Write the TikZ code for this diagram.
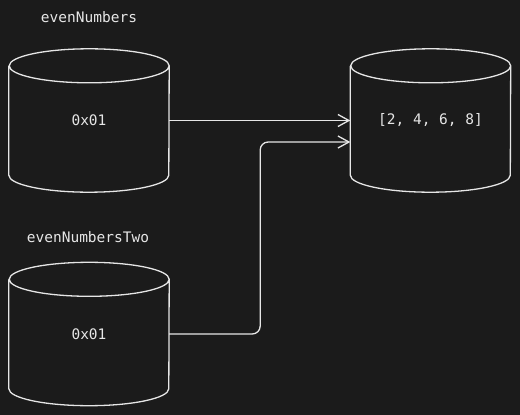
\documentclass[tikz,border=0pt]{standalone}
\usepackage{fontspec}
\setmonofont{DejaVu Sans Mono}
\usepackage{tikz}
\usetikzlibrary{arrows.meta}
\definecolor{bg}{HTML}{1B1B1B}
\definecolor{ink}{HTML}{E6E6E6}
\tikzstyle{canvas}=[x=1pt, y=-1pt, draw=ink, text=ink, font=\ttfamily\fontsize{14.5}{17}\selectfont]
\tikzstyle{store}=[rectangle, minimum width=160pt, minimum height=109pt, inner sep=0pt]
\tikzstyle{drum}=[draw=ink, line width=1.3pt]
\tikzstyle{lbl}=[inner sep=0pt]
\tikzstyle{edge}=[-{Straight Barb[length=11pt,width=12pt]}, draw=ink, line width=1.3pt]
\newcommand{\drum}[1]{%
	\draw[drum] (#1.north east) arc[start angle=0, end angle=360, x radius=80pt, y radius=17pt]
	(#1.north west) -- (#1.south west) arc[start angle=180, end angle=360, x radius=80pt, y radius=17pt] -- (#1.north east);}

\begin{document}
\begin{tikzpicture}[canvas]
	%The canvas
	\fill[bg] (0,0) rectangle (520,415);
	\useasboundingbox (0,0) rectangle (520,415);
	
	%The stores
	\draw (89,120.5) node[store] (s1) {0x01};
	\draw (89,334) node[store] (s2) {0x01};
	\draw (430.5,120.5) node[store] (arr) {[2, 4, 6, 8]};
	\drum{s1}
	\drum{s2}
	\drum{arr}
	
	%The variable names
	\draw (89,17) node[lbl] (n1) {evenNumbers};
	\draw (88,237) node[lbl] (n2) {evenNumbersTwo};
	
	%The references
	\coordinate (in2) at ([yshift=-21.5pt]arr.west);
	\draw[edge] (s1.east) -- (arr.west);
	\draw[edge, rounded corners=8pt] (s2.east) -- ++(91,0) |- (in2);
\end{tikzpicture}
\end{document}
